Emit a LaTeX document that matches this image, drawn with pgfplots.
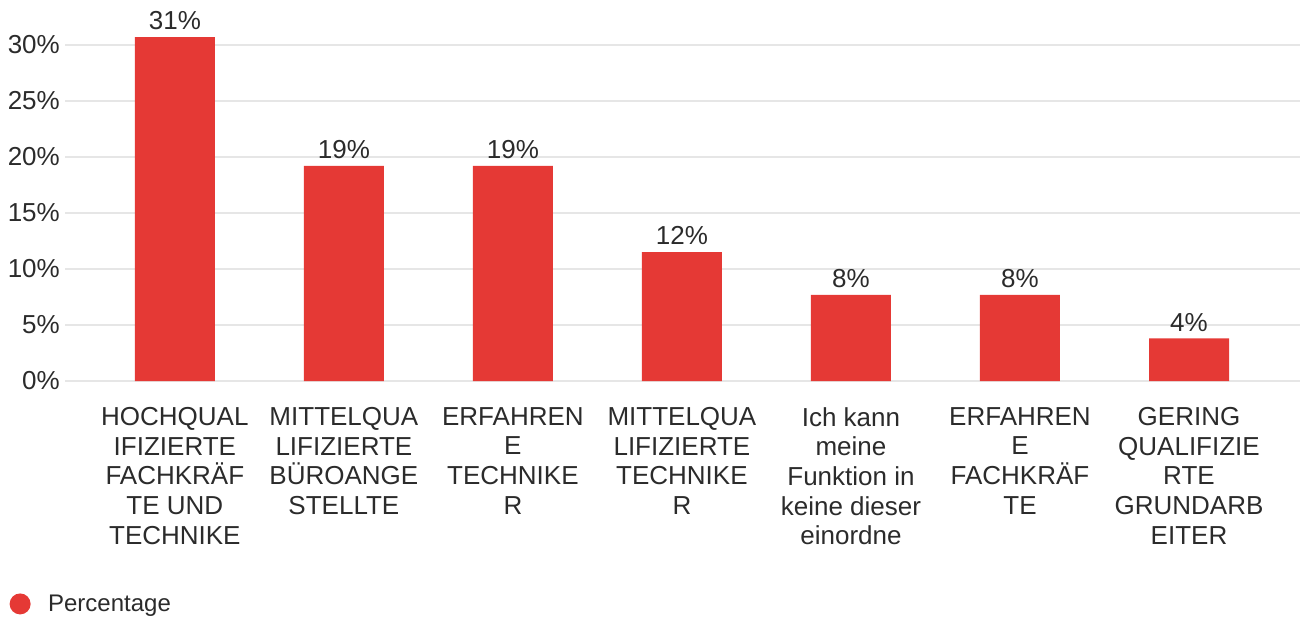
\documentclass[border=0pt]{standalone}
\usepackage{fontspec}
\setmainfont{Liberation Sans}
\usepackage{pgfplots}
\pgfplotsset{compat=1.18}
\definecolor{barred}{HTML}{E53935}
\definecolor{txt}{HTML}{2B2B2B}
\definecolor{gridc}{HTML}{E6E6E6}
\begin{document}
\begin{tikzpicture}[x=1pt,y=1pt]
\useasboundingbox (-65,-237) rectangle (1236,381);
\begin{axis}[
  at={(0,0)}, anchor=south west,
  scale only axis, width=1235pt, height=358.4pt,
  xmin=-0.65, xmax=6.657, ymin=0, ymax=32,
  axis line style={draw=none},
  major tick length=0pt,
  ytick={0,5,10,15,20,25,30},
  ymajorgrids, grid style={gridc, line width=1.6pt},
  /pgf/number format/assume math mode=true,
  yticklabel={\pgfmathprintnumber{\tick}\%},
  yticklabel style={font=\fontsize{26}{30}\selectfont, text=txt, anchor=east, inner sep=0pt, xshift=-5pt},
  xtick={0,1,2,3,4,5,6},
  xticklabels={{HOCHQUAL\\IFIZIERTE\\FACHKRÄF\\TE UND\\TECHNIKE},
    {MITTELQUA\\LIFIZIERTE\\BÜROANGE\\STELLTE},
    {ERFAHREN\\E\\TECHNIKE\\R},
    {MITTELQUA\\LIFIZIERTE\\TECHNIKE\\R},
    {Ich kann\\meine\\Funktion in\\keine dieser\\einordne},
    {ERFAHREN\\E\\FACHKRÄF\\TE},
    {GERING\\QUALIFIZIE\\RTE\\GRUNDARB\\EITER}},
  xticklabel style={font=\fontsize{26}{29.7}\selectfont, text=txt, align=center, anchor=north, inner sep=0pt, yshift=-26pt},
  clip=false,
  legend style={at={(-0.045,-0.622)}, anchor=west, draw=none, fill=none,
    font=\fontsize{24}{28}\selectfont, text=txt, inner sep=0pt,
    /tikz/every even column/.append style={column sep=0pt}},
  legend cell align=left,
]
\addplot[ybar, bar width=80pt, fill=barred, draw=none,
  point meta=explicit symbolic,
  nodes near coords,
  nodes near coords style={font=\fontsize{26}{30}\selectfont, text=txt, anchor=south, inner sep=0pt, yshift=7pt},
  legend image code/.code={\fill[barred] (10pt,0pt) circle (10.5pt); \path (36pt,0pt);}
] coordinates {
  (0,30.7) [31\%]
  (1,19.2) [19\%]
  (2,19.2) [19\%]
  (3,11.5) [12\%]
  (4,7.7) [8\%]
  (5,7.7) [8\%]
  (6,3.8) [4\%]
};
\addlegendentry{Percentage}
\end{axis}
\end{tikzpicture}
\end{document}
